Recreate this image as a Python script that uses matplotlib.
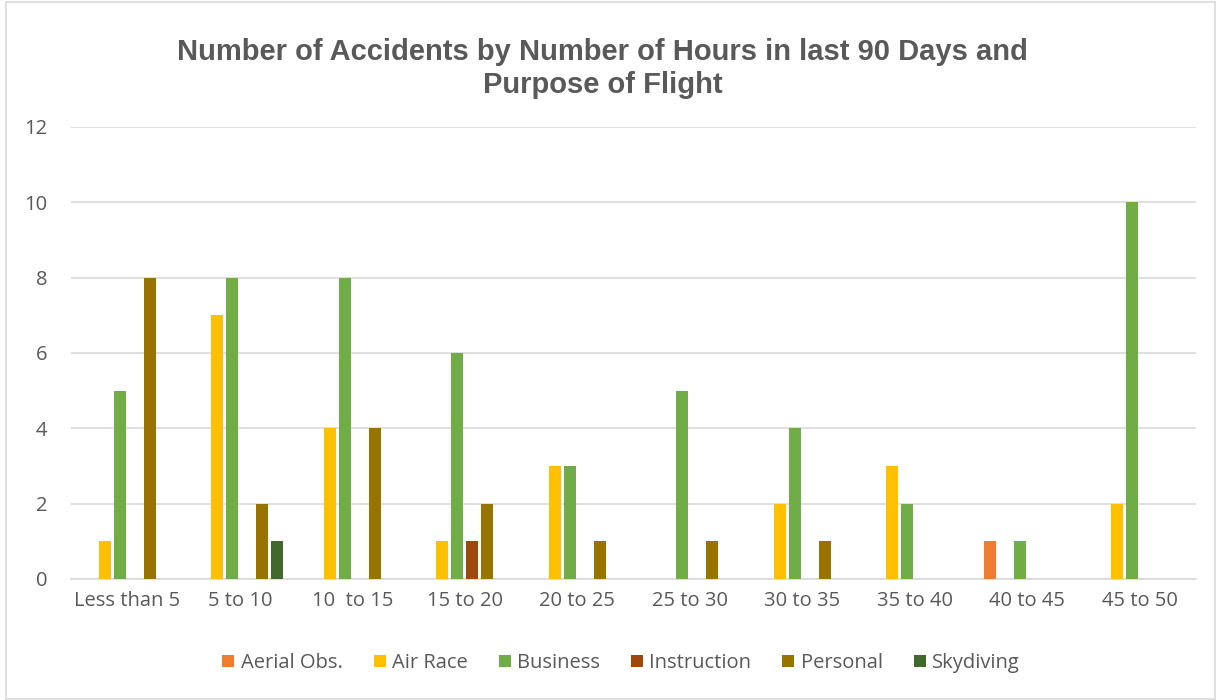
import matplotlib
matplotlib.use("Agg")
import matplotlib.pyplot as plt
from matplotlib.patches import Rectangle
import numpy as np

categories = ["Less than 5", "5 to 10", "10  to 15", "15 to 20", "20 to 25",
              "25 to 30", "30 to 35", "35 to 40", "40 to 45", "45 to 50"]
series_names = ["Aerial Obs.", "Air Race", "Business", "Instruction", "Personal", "Skydiving"]
aerial_obs  = [0, 0, 0, 0, 0, 0, 0, 0, 1, 0]
air_race    = [1, 7, 4, 1, 3, 0, 2, 3, 0, 2]
business    = [5, 8, 8, 6, 3, 5, 4, 2, 1, 10]
instruction = [0, 0, 0, 1, 0, 0, 0, 0, 0, 0]
personal    = [8, 2, 4, 2, 1, 1, 1, 0, 0, 0]
skydiving   = [0, 1, 0, 0, 0, 0, 0, 0, 0, 0]
colors = ["#ED7D31", "#FFC000", "#70AD47", "#9E480E", "#997300", "#43682B"]

values = [aerial_obs, air_race, business, instruction, personal, skydiving]

plt.rcParams['font.family'] = ['Open Sans', 'DejaVu Sans']

fig = plt.figure(figsize=(12.17, 7.0), dpi=100)
ax = fig.add_axes([71/1217, 1-579/700, (1196-71)/1217, (579-127)/700])

x = np.arange(len(categories))
slot = 0.1333
bw = 0.107
for i, (name, vals, c) in enumerate(zip(series_names, values, colors)):
    ax.bar(x + (i - 2.5) * slot, vals, width=bw, color=c, label=name, zorder=3)

ax.set_xlim(-0.5, len(categories) - 0.5)
ax.set_ylim(0, 12)
ax.set_yticks(range(0, 13, 2))
ax.set_xticks(x)
ax.set_xticklabels(categories)
ax.yaxis.grid(True, color="#D9D9D9", linewidth=1.2, zorder=0)
ax.set_axisbelow(True)
for s in ["top", "right", "left"]:
    ax.spines[s].set_visible(False)
ax.spines["bottom"].set_color("#D9D9D9")
ax.spines["bottom"].set_linewidth(1.2)
ax.tick_params(axis="both", length=0, labelsize=14.5, colors="#595959")
ax.tick_params(axis="y", pad=17)
ax.tick_params(axis="x", pad=9)

fig.text(602/1217, 1-52/700, "Number of Accidents by Number of Hours in last 90 Days and",
         ha="center", va="center", fontsize=21, fontweight="bold", color="#595959",
         family="Liberation Sans")
fig.text(603/1217, 1-85/700, "Purpose of Flight",
         ha="center", va="center", fontsize=21, fontweight="bold", color="#595959",
         family="Liberation Sans")

leg = fig.legend(loc="center", bbox_to_anchor=(621/1217, 1-663/700), ncol=6, frameon=False,
                 fontsize=14.5, handlelength=0.6, handleheight=0.6, handletextpad=0.3,
                 columnspacing=1.55, labelcolor="#595959")

fig.patches.append(Rectangle((6/1217, 0.002), 1-8/1217, 0.995, transform=fig.transFigure,
                             fill=False, edgecolor="#D9D9D9", linewidth=1.2))

fig.savefig("out.png", dpi=100, facecolor="white")
